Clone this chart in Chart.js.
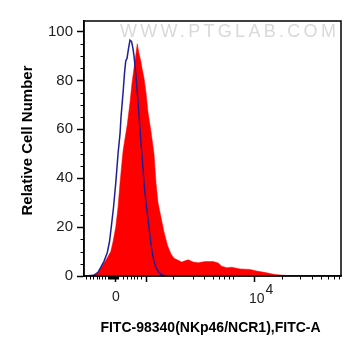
<!DOCTYPE html>
<html><head><meta charset="utf-8">
<script src="https://cdn.jsdelivr.net/npm/chart.js@4"></script>
<style>html,body{margin:0;padding:0;background:#fff}canvas{display:block}</style>
</head><body>
<canvas id="c" width="361" height="356"></canvas>
<script>
// Histogram data (x = display channel, y = relative cell number)
const isotypeChannels = [8,40,56,67,80,93,102,109,118,127,137,144,148,157,162,167,172,178,184,190,196,200,207,214,220,226,230,236,240,248,254,260,268,274,280,288,296,307,316,328];
const isotypeCounts   = [0,0.3,1.5,3.5,6,9.5,14,20,28,38,51,58,65,76,83,88,89,93,96.5,96,93,90,83,74,66,57,52,44,38,30,25,20,13,9,6,3.5,2,0.8,0.3,0];
const sampleChannels = [16,40,56,72,88,107,116,127,136,144,156,162,173,184,192,200,208,213,220,227,232,240,248,256,268,280,288,296,308,320,334,348,360,377,391,404,417,437,457,484,517,537,551,571,591,624,664,691,731,764,811,904,1028];
const sampleCounts   = [0,0.5,1.5,4,6.5,10,14,20,28,38,51,55,62,71,79,85,91,95,91,88,85,81,75,67,59,50,38,30,24,18,12.5,9,7.3,6.4,5.7,6.2,6.6,5.7,5.4,5.9,5.9,5.3,4,3.4,3.6,2.9,2.7,2,1.3,0.6,0.2,0.05,0];

// Axis ticks
const xMajorTicks = [124, 248, 680];
const xTickBase   = ['0', '', '10'];
const xTickExp    = ['', '', '4'];
const xMinorTicks = [8,24,37,51,61,72,83,96,100,104,108,112,116,120,128,132,137,157,173,187,200,213,227,357,435,481,515,541,561,580,597,791,864,913,948,977,1000,1020];
const yMajorTicks = [0,20,40,60,80,100];
const yMinorTicks = [5,10,15,25,30,35,45,50,55,65,70,75,85,90,95];

const xTitle = 'FITC-98340(NKp46/NCR1),FITC-A';
const yTitle = 'Relative Cell Number';
const watermark = 'WWW.PTGLAB.COM';

const FONT = "'Liberation Sans', Arial, sans-serif";

const toPoints = (xs, ys) => xs.map((x, i) => ({x, y: ys[i]}));

const decor = {
  id: 'decor',
  beforeDatasetsDraw(chart) {
    const {ctx, chartArea: a} = chart;
    ctx.save();
    ctx.font = '18px ' + FONT;
    ctx.fillStyle = '#d9d9d9';
    ctx.textBaseline = 'middle';
    ctx.textAlign = 'left';
    try { ctx.letterSpacing = '3.3px'; } catch (e) {}
    ctx.fillText(watermark, a.left + 36, a.top + 11);
    ctx.restore();
  },
  afterDraw(chart) {
    const {ctx, chartArea: a, scales: {x, y}} = chart;
    ctx.save();
    ctx.strokeStyle = '#000';
    ctx.lineWidth = 1.5;
    ctx.strokeRect(a.left, a.top, a.right - a.left, a.bottom - a.top);
    // minor ticks
    ctx.lineWidth = 1;
    ctx.beginPath();
    xMinorTicks.forEach(v => {
      const px = Math.round(x.getPixelForValue(v)) + 0.5;
      ctx.moveTo(px, a.bottom); ctx.lineTo(px, a.bottom + 3.5);
    });
    yMinorTicks.forEach(v => {
      const py = Math.round(y.getPixelForValue(v)) + 0.5;
      ctx.moveTo(a.left - 3.5, py); ctx.lineTo(a.left, py);
    });
    ctx.stroke();
    // x tick labels
    ctx.fillStyle = '#222';
    ctx.font = '14px ' + FONT;
    ctx.textBaseline = 'middle';
    xMajorTicks.forEach((v, i) => {
      const px = x.getPixelForValue(v);
      if (!xTickBase[i]) return;
      if (xTickExp[i]) {
        ctx.textAlign = 'left';
        const bx = px - 5;
        ctx.fillText(xTickBase[i], bx, a.bottom + 23.5);
        const w = ctx.measureText(xTickBase[i]).width;
        ctx.fillText(xTickExp[i], bx + w + 1, a.bottom + 14);
      } else {
        ctx.textAlign = 'center';
        ctx.fillText(xTickBase[i], px + 1, a.bottom + 21.5);
      }
    });
    // titles
    ctx.fillStyle = '#000';
    ctx.font = 'bold 14px ' + FONT;
    ctx.textAlign = 'center';
    ctx.fillText(xTitle, (a.left + a.right) / 2 - 2, a.bottom + 52);
    ctx.save();
    ctx.translate(28, (a.top + a.bottom) / 2 - 8);
    ctx.rotate(-Math.PI / 2);
    ctx.font = 'bold 15px ' + FONT;
    ctx.fillText(yTitle, 0, 0);
    ctx.restore();
    ctx.restore();
  }
};

new Chart(document.getElementById('c'), {
  type: 'line',
  data: {
    datasets: [
      {
        label: 'Isotype',
        data: toPoints(isotypeChannels, isotypeCounts),
        borderColor: '#1f1f96',
        borderWidth: 1.5,
        pointRadius: 0,
        fill: false,
        tension: 0
      },
      {
        label: 'Sample',
        data: toPoints(sampleChannels, sampleCounts),
        borderColor: '#ff0000',
        borderWidth: 0.5,
        backgroundColor: '#ff0000',
        pointRadius: 0,
        fill: 'origin',
        tension: 0
      }
    ]
  },
  options: {
    responsive: false,
    animation: false,
    devicePixelRatio: 1,
    layout: {padding: {left: 0, right: 20, top: 21, bottom: 0}},
    plugins: {legend: {display: false}, tooltip: {enabled: false}},
    scales: {
      x: {
        type: 'linear',
        min: 0, max: 1028,
        afterBuildTicks: s => { s.ticks = xMajorTicks.map(v => ({value: v})); },
        afterFit: s => { s.height = 80; },
        ticks: {callback: () => '', autoSkip: false, maxRotation: 0},
        grid: {drawOnChartArea: false, drawTicks: true, tickLength: 6, tickWidth: 1.5, tickColor: '#000'},
        border: {display: true, color: '#000', width: 1.5}
      },
      y: {
        type: 'linear',
        min: 0, max: 104.3,
        afterBuildTicks: s => { s.ticks = yMajorTicks.map(v => ({value: v})); },
        afterFit: s => { s.width = 84; },
        ticks: {color: '#222', font: {family: FONT, size: 15}, padding: 4, autoSkip: false},
        grid: {drawOnChartArea: false, drawTicks: true, tickLength: 7, tickWidth: 1.5, tickColor: '#000'},
        border: {display: true, color: '#000', width: 1.5}
      }
    }
  },
  plugins: [decor]
});
</script>
</body></html>
